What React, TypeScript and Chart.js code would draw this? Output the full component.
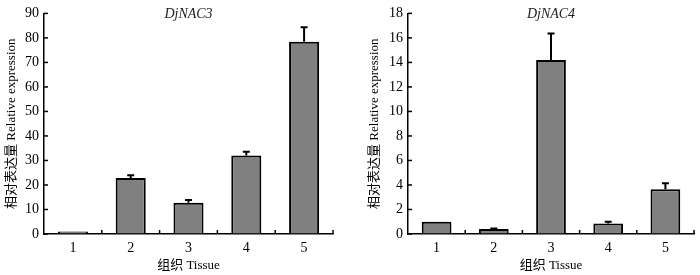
import React, { useEffect, useRef } from "react";
import { Chart, registerables } from "chart.js";

Chart.register(...registerables);

const tissues = ["1", "2", "3", "4", "5"];
const nac3Values = [1.0, 22.8, 12.8, 32.0, 78.4];
const nac3Errors = [0, 1.2, 1.1, 1.6, 6.0];
const nac4Values = [1.0, 0.4, 14.2, 0.86, 3.65];
const nac4Errors = [0, 0.04, 2.15, 0.14, 0.5];
const nac3Axis = { max: 90, step: 10 };
const nac4Axis = { max: 18, step: 2 };
const xTitle = "组织 Tissue";
const yTitle = "相对表达量 Relative expression";

const SERIF = "'Liberation Serif', 'Times New Roman', 'Noto Sans CJK SC', serif";

type Cfg = {
  title: string;
  values: number[];
  errors: number[];
  axis: { max: number; step: number };
  padLeft: number;
  padRight: number;
  yWidth: number;
};

function makeChart(canvas: HTMLCanvasElement, cfg: Cfg) {
  const decor = {
    id: "decor",
    afterDatasetsDraw(chart: any) {
      const ctx = chart.ctx;
      const area = chart.chartArea;
      const xs = chart.scales.x;
      const ys = chart.scales.y;
      ctx.save();
      // error bars
      ctx.strokeStyle = "#000";
      ctx.lineWidth = 2;
      cfg.values.forEach((v, i) => {
        const e = cfg.errors[i];
        if (!e) return;
        const x = xs.getPixelForValue(i);
        const y0 = ys.getPixelForValue(v);
        const y1 = ys.getPixelForValue(v + e);
        ctx.beginPath();
        ctx.moveTo(x, y0);
        ctx.lineTo(x, y1);
        ctx.moveTo(x - 3.5, y1);
        ctx.lineTo(x + 3.5, y1);
        ctx.stroke();
      });
      // inward ticks
      ctx.lineWidth = 1.5;
      ys.ticks.forEach((t: any) => {
        const y = ys.getPixelForValue(t.value);
        ctx.beginPath();
        ctx.moveTo(area.left, y);
        ctx.lineTo(area.left + 4, y);
        ctx.stroke();
      });
      for (let i = 0; i < cfg.values.length; i++) {
        const x = xs.getPixelForValue(i + 0.5);
        ctx.beginPath();
        ctx.moveTo(x, area.bottom);
        ctx.lineTo(x, area.bottom - 4);
        ctx.stroke();
      }
      // title
      ctx.fillStyle = "#222";
      ctx.font = `italic 14px ${SERIF}`;
      ctx.textAlign = "center";
      ctx.textBaseline = "middle";
      ctx.fillText(cfg.title, (area.left + area.right) / 2, area.top + 1);
      ctx.restore();
    },
  };

  return new Chart(canvas, {
    type: "bar",
    data: {
      labels: tissues,
      datasets: [
        {
          data: cfg.values,
          backgroundColor: "#808080",
          borderColor: "#000",
          borderWidth: 2,
          borderSkipped: "bottom",
          barPercentage: 0.52,
          categoryPercentage: 1,
        },
      ],
    },
    options: {
      animation: false,
      responsive: false,
      devicePixelRatio: 1,
      layout: { padding: { top: 9, right: cfg.padRight, left: cfg.padLeft, bottom: 0 } },
      plugins: { legend: { display: false }, tooltip: { enabled: false } },
      scales: {
        x: {
          afterFit: (s: any) => {
            s.height = 41;
          },
          grid: { display: true, drawOnChartArea: false, drawTicks: false },
          border: { display: true, color: "#000", width: 1.5 },
          ticks: { color: "#000", padding: 6, font: { family: SERIF, size: 14 } },
          title: {
            display: true,
            text: xTitle,
            color: "#000",
            padding: { top: 0, bottom: 2 },
            font: { family: SERIF, size: 13 },
          },
        },
        y: {
          min: 0,
          max: cfg.axis.max,
          afterFit: (s: any) => {
            s.width = cfg.yWidth;
          },
          grid: { display: true, drawOnChartArea: false, drawTicks: false },
          border: { display: true, color: "#000", width: 1.5 },
          ticks: {
            stepSize: cfg.axis.step,
            color: "#000",
            padding: 5,
            font: { family: SERIF, size: 14 },
          },
          title: {
            display: true,
            text: yTitle,
            color: "#000",
            padding: { top: 4, bottom: 4 },
            font: { family: SERIF, size: 13 },
          },
        },
      },
    },
    plugins: [decor],
  } as any);
}

function Panel({ cfg }: { cfg: Cfg }) {
  const ref = useRef<HTMLCanvasElement>(null);
  useEffect(() => {
    if (!ref.current) return;
    const c = makeChart(ref.current, cfg);
    return () => c.destroy();
  }, []);
  return <canvas ref={ref} width={350} height={275} style={{ display: "block" }} />;
}

export default function App() {
  return (
    <div
      style={{
        position: "absolute",
        left: 0,
        top: 0,
        width: 700,
        height: 275,
        display: "flex",
        background: "#fff",
      }}
    >
      <Panel
        cfg={{ title: "DjNAC3", values: nac3Values, errors: nac3Errors, axis: nac3Axis, padLeft: 0, padRight: 17, yWidth: 44 }}
      />
      <Panel
        cfg={{ title: "DjNAC4", values: nac4Values, errors: nac4Errors, axis: nac4Axis, padLeft: 13, padRight: 6, yWidth: 45 }}
      />
    </div>
  );
}
